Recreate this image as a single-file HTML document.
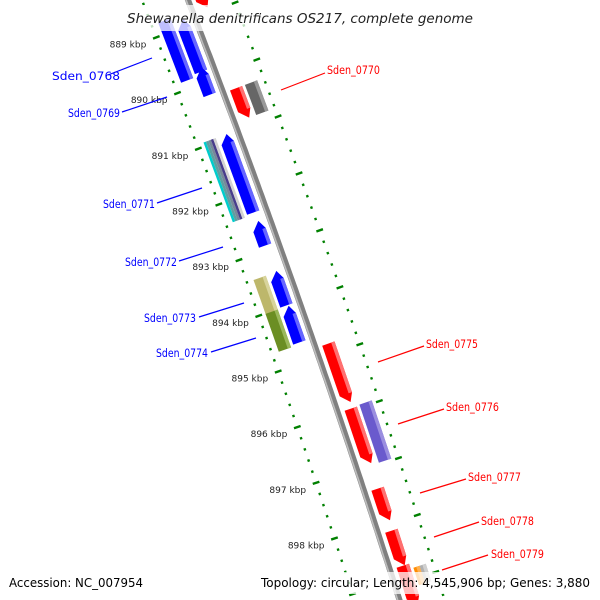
<!DOCTYPE html>
<html><head><meta charset="utf-8"><style>html,body{margin:0;padding:0;background:#fff;overflow:hidden;width:600px;height:600px}svg{display:block;overflow:hidden}</style></head>
<body>
<svg id="map" width="600" height="600" viewBox="0 0 600 600" xmlns="http://www.w3.org/2000/svg">
<defs><clipPath id="frame"><rect x="0" y="0" width="600" height="600"/></clipPath></defs>
<rect x="0" y="0" width="600" height="600" fill="#fff"/>
<g clip-path="url(#frame)">
<g id="rings"></g>
<g id="backbone"></g>
<g id="feats"></g>
</g>
<g id="ticklabels" font-family="DejaVu Sans, sans-serif" font-size="9" fill="#222"></g>
<g font-family="DejaVu Sans, sans-serif" font-size="11.5">
  <g fill="#0000ff" stroke="none">
    <text x="52" y="80" textLength="68" lengthAdjust="spacingAndGlyphs">Sden_0768</text>
    <text x="68" y="117" textLength="52" lengthAdjust="spacingAndGlyphs">Sden_0769</text>
    <text x="103" y="208" textLength="52" lengthAdjust="spacingAndGlyphs">Sden_0771</text>
    <text x="125" y="266" textLength="52" lengthAdjust="spacingAndGlyphs">Sden_0772</text>
    <text x="144" y="322" textLength="52" lengthAdjust="spacingAndGlyphs">Sden_0773</text>
    <text x="156" y="357" textLength="52" lengthAdjust="spacingAndGlyphs">Sden_0774</text>
  </g>
  <g stroke="#0000ff" stroke-width="1.2">
    <line x1="108" y1="75" x2="152" y2="58"/>
    <line x1="122" y1="112" x2="167" y2="97"/>
    <line x1="157" y1="203" x2="202" y2="188"/>
    <line x1="179" y1="261" x2="223" y2="247"/>
    <line x1="199" y1="317" x2="244" y2="303"/>
    <line x1="211" y1="352" x2="256" y2="338"/>
  </g>
  <g fill="#ff0000">
    <text x="327" y="74" textLength="53" lengthAdjust="spacingAndGlyphs">Sden_0770</text>
    <text x="426" y="348" textLength="52" lengthAdjust="spacingAndGlyphs">Sden_0775</text>
    <text x="446" y="411" textLength="53" lengthAdjust="spacingAndGlyphs">Sden_0776</text>
    <text x="468" y="481" textLength="53" lengthAdjust="spacingAndGlyphs">Sden_0777</text>
    <text x="481" y="525" textLength="53" lengthAdjust="spacingAndGlyphs">Sden_0778</text>
    <text x="491" y="558" textLength="53" lengthAdjust="spacingAndGlyphs">Sden_0779</text>
  </g>
  <g stroke="#ff0000" stroke-width="1.2">
    <line x1="281" y1="90" x2="325" y2="73"/>
    <line x1="378" y1="362" x2="424" y2="346"/>
    <line x1="398" y1="424" x2="444" y2="409"/>
    <line x1="420" y1="493" x2="466" y2="479"/>
    <line x1="434" y1="537" x2="479" y2="522"/>
    <line x1="442" y1="570" x2="488" y2="555"/>
  </g>
</g>
<rect x="122" y="5" width="356" height="26" fill="#fff" opacity="0.75"/>
<text x="127" y="23" font-family="DejaVu Sans, sans-serif" font-style="italic" font-size="13" fill="#222" textLength="346" lengthAdjust="spacingAndGlyphs">Shewanella denitrificans OS217, complete genome</text>
<rect x="4" y="572" width="144" height="22" fill="#fff" opacity="0.75"/>
<rect x="256" y="572" width="340" height="22" fill="#fff" opacity="0.75"/>
<text x="9" y="587" font-family="DejaVu Sans, sans-serif" font-size="12" fill="#000" textLength="134" lengthAdjust="spacingAndGlyphs">Accession: NC_007954</text>
<text x="261" y="587" font-family="DejaVu Sans, sans-serif" font-size="12" fill="#000" textLength="329" lengthAdjust="spacingAndGlyphs">Topology: circular; Length: 4,545,906 bp; Genes: 3,880</text>
</svg>
<script>
// feature data (kbp)
const featNames  = ["top-fwd","sden_0768a","sden_0768b","sden_0769","sden_0770","sden_0770-grey","sden_0771a","sden_0771b","sden_0772","sden_0773a","sden_0773b","sden_0774a","sden_0774b","sden_0775","sden_0776","sden_0776b","sden_0777","sden_0778","sden_0779","sden_0779-orange","sden_0779-grey"];
const featStart  = [888.517,888.785,888.875,889.734,890.270,890.270,890.932,890.932,892.489,893.400,893.383,894.008,894.009,894.832,895.995,895.977,897.426,898.177,898.803,898.890,898.890];
const featEnd    = [888.839,889.858,889.805,890.217,890.807,890.807,892.363,892.327,892.918,894.026,893.991,894.688,894.653,895.888,896.979,897.014,897.998,898.803,899.519,899.200,899.200];
const featStrand = [1,-1,-1,-1,1,1,-1,-1,-1,-1,-1,-1,-1,1,1,1,1,1,1,1,1];
const featLane   = [0,1,0,0,0,1,1,0,0,1,0,1,0,0,0,1,0,0,0,1,1];
const featColor  = ["red","blue","blue","blue","red","grey","multi","blue","blue","khaki","blue","olive","blue","red","red","slate","red","red","red","orange","lightgrey"];
const tickKbp    = [889,890,891,892,893,894,895,896,897,898];

const NS="http://www.w3.org/2000/svg";
const pal={red:["#ff0000","#ff7070"],blue:["#0000ff","#6666ff"],grey:["#666666","#999999"],khaki:["#bdb76b","#d8d49c"],olive:["#6b8e23","#9ab85a"],slate:["#6a5acd","#9a8ee0"],orange:["#ff8c00","#ffb050"],lightgrey:["#b0b0b0","#d0d0d0"]};
function bY(k){return 22+(k-889)*55.9;}
function pt(k,d){const y=bY(k);const x=188+0.386*y-5.57e-5*y*y;const s=0.386-1.114e-4*y;const L=Math.sqrt(1+s*s);return [x+d/L,y-d*s/L];}
function poly(parent,pts,fill,name){const p=document.createElementNS(NS,"polygon");p.setAttribute("points",pts.map(q=>q[0].toFixed(1)+","+q[1].toFixed(1)).join(" "));p.setAttribute("fill",fill);


parent.appendChild(p);return p;}
function line(parent,a,b,stroke,w,name){const l=document.createElementNS(NS,"line");l.setAttribute("x1",a[0]);l.setAttribute("y1",a[1]);l.setAttribute("x2",b[0]);l.setAttribute("y2",b[1]);l.setAttribute("stroke",stroke);l.setAttribute("stroke-width",w);


parent.appendChild(l);}
const bb=document.getElementById("backbone");
function path(parent,d,stroke,w,name){const pts=[];for(let k=888.2;k<=899.8;k+=0.1)pts.push(pt(k,d));const p=document.createElementNS(NS,"polyline");p.setAttribute("points",pts.map(q=>q[0].toFixed(1)+","+q[1].toFixed(1)).join(" "));p.setAttribute("fill","none");p.setAttribute("stroke",stroke);p.setAttribute("stroke-width",w);


parent.appendChild(p);}
path(bb,0,"#808080",6,"backbone-line");
path(bb,-1.8,"#bdbdbd",1.6,"backbone-highlight");
const rg=document.getElementById("rings");
for(let n=-5;n<=58;n++){const k=888+n*0.2;const maj=n%5===0;const h=maj?3.5:1.2;
 line(rg,pt(k,-43-h),pt(k,-43+h),"#008000",2.4,maj?"inner-major-tick":"inner-minor-tick");}
for(let n=-5;n<=54;n++){const k=888.93+n*0.2*1.0143;const maj=n%5===0;const h=maj?3.5:1.2;
 line(rg,pt(k,43-h),pt(k,43+h),"#008000",2.4,maj?"outer-major-tick":"outer-minor-tick");}
const tl=document.getElementById("ticklabels");
tickKbp.forEach(k=>{const p=pt(k,-43);const t=document.createElementNS(NS,"text");t.setAttribute("x",(p[0]-10).toFixed(1));t.setAttribute("y",(p[1]+10).toFixed(1));t.setAttribute("text-anchor","end");t.textContent=k+" kbp";


tl.appendChild(t);});
const fg=document.getElementById("feats");
const lanes=[[7,20],[23,36]];const H=0.15;
featNames.forEach((nm,i)=>{
 const k1=featStart[i],k2=featEnd[i],st=featStrand[i],ln=featLane[i];
 let d1=lanes[ln][0]*st,d2=lanes[ln][1]*st;if(d1>d2){const t=d1;d1=d2;d2=t;}
 const g=document.createElementNS(NS,"g");
 
 
 fg.appendChild(g);
 const col=featColor[i];
 if(col==="multi"){
  const cols=["#00cccc","#5f9ea0","#778899","#483d8b","#d3d3d3"];const w=(d2-d1)/5;
  cols.forEach((c,j)=>{poly(g,[pt(k1,d1+j*w),pt(k1,d1+(j+1)*w),pt(k2,d1+(j+1)*w),pt(k2,d1+j*w)],c,"feature-stripe");});
  return;}
 if(nm==="sden_0779-orange"){d2=(d1+d2)/2;}
 if(nm==="sden_0779-grey"){d1=(d1+d2)/2;}
 const c=pal[col];const mid=(d1+d2)/2;
 if(ln===0){
  if(st>0){poly(g,[pt(k1,d1),pt(k1,d2),pt(k2-H,d2),pt(k2,mid+2),pt(k2-H,d1)],c[0],"feature-body");
   poly(g,[pt(k1,d2-3.5),pt(k1,d2),pt(k2-H,d2),pt(k2-H,d2-3.5)],c[1],"feature-shade");}
  else{poly(g,[pt(k2,d1),pt(k2,d2),pt(k1+H,d2),pt(k1,mid+2),pt(k1+H,d1)],c[0],"feature-body");
   poly(g,[pt(k2,d2-3.5),pt(k2,d2),pt(k1+H,d2),pt(k1+H,d2-3.5)],c[1],"feature-shade");}
 } else {
  poly(g,[pt(k1,d1),pt(k1,d2),pt(k2,d2),pt(k2,d1)],c[0],"feature-body");
  poly(g,[pt(k1,d2-3.5),pt(k1,d2),pt(k2,d2),pt(k2,d2-3.5)],c[1],"feature-shade");
 }
});
</script>
</body></html>
